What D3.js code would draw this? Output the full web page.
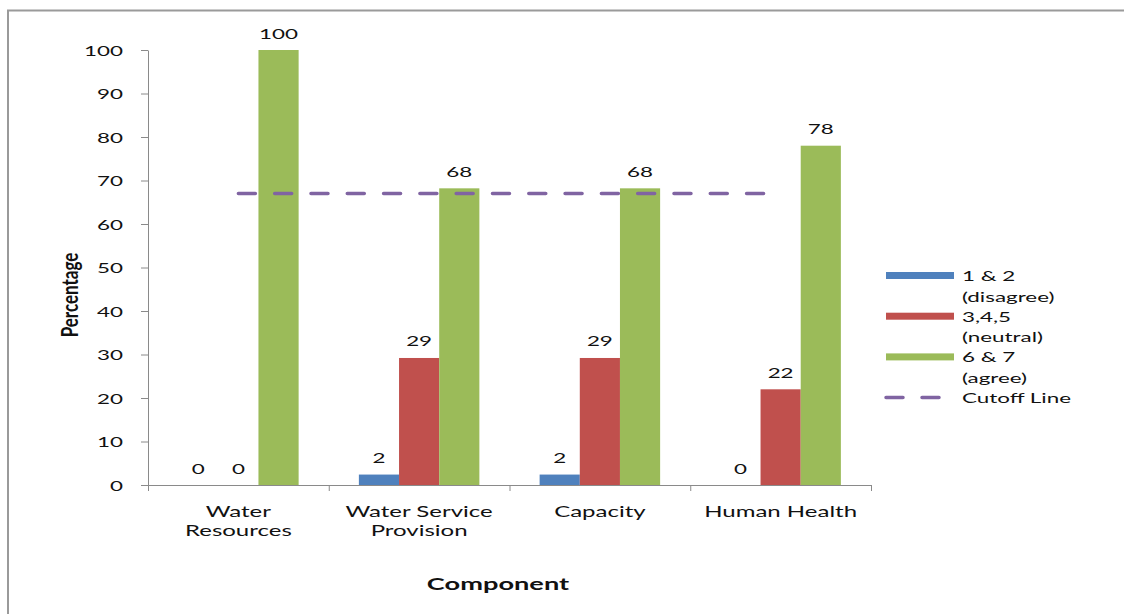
<!DOCTYPE html>
<html>
<head>
<meta charset="utf-8">
<script src="https://cdn.jsdelivr.net/npm/d3@7"></script>
<style>
  body { margin: 0; background: #fff; }
  text { font-family: Lato, "Open Sans", sans-serif; fill: #111; }
</style>
</head>
<body>
<svg id="chart"></svg>
<script>
const categories = ["Water\nResources", "Water Service\nProvision", "Capacity", "Human Health"];
const seriesNames = ["1 & 2\n(disagree)", "3,4,5\n(neutral)", "6 & 7\n(agree)"];
const disagree = [0, 2.4, 2.4, 0];
const neutral = [0, 29.2, 29.2, 22];
const agree = [100, 68.2, 68.2, 78];
const cutoff = [67, 67, 67, 67];
const cutoffName = "Cutoff Line";
const yTicks = [0, 10, 20, 30, 40, 50, 60, 70, 80, 90, 100];

const series = [disagree, neutral, agree];
const colours = ["#4F81BD", "#C0504D", "#9BBB59"];
const lineColour = "#8064A2";
const axisColour = "#8a8a8a";
const SX = 1.6; // the source picture is stretched sideways

const width = 1124;
const height = 614;
const margin = { top: 50, right: 253, bottom: 129, left: 148 };

const svg = d3.select("#chart").attr("width", width).attr("height", height);

// grey frame of the chart area (only top and left edges show)
svg.append("path")
  .attr("d", `M8,${height}V10.5H${width}`)
  .attr("fill", "none")
  .attr("stroke", "#9a9a9a")
  .attr("stroke-width", 2);

const x = d3.scaleBand()
  .domain(categories)
  .range([margin.left, width - margin.right]);

const xs = d3.scaleBand()
  .domain(d3.range(series.length))
  .range([0, x.bandwidth()])
  .paddingInner(0)
  .paddingOuter(0.75);

const y = d3.scaleLinear()
  .domain([0, 100])
  .range([height - margin.bottom, margin.top]);

const stretch = (sel, tx, ty) =>
  sel.attr("transform", `translate(${tx},${ty}) scale(${SX},1)`);

// y axis
const yAxis = svg.append("g")
  .attr("transform", `translate(${margin.left},0)`)
  .call(d3.axisLeft(y).tickValues(yTicks).tickSize(7).tickSizeOuter(0));
yAxis.select(".domain").attr("stroke", axisColour);
yAxis.selectAll(".tick line").attr("stroke", axisColour);
yAxis.selectAll(".tick text")
  .attr("x", -25 / SX)
  .attr("dy", "0.36em")
  .attr("transform", `scale(${SX},1)`)
  .style("font-size", "14px")
  .style("font-family", "Lato, sans-serif");

// x axis: boundary ticks
const xb = d3.scaleLinear().domain([0, categories.length]).range(x.range());
const xAxis = svg.append("g")
  .attr("transform", `translate(0,${y(0)})`)
  .call(d3.axisBottom(xb).ticks(categories.length).tickSize(6).tickSizeOuter(0).tickFormat(""));
xAxis.select(".domain").attr("stroke", axisColour);
xAxis.selectAll(".tick line").attr("stroke", axisColour);

// x axis: category labels
const xLabels = svg.append("g")
  .attr("transform", `translate(0,${y(0)})`)
  .call(d3.axisBottom(x).tickSize(0));
xLabels.select(".domain").remove();
xLabels.selectAll(".tick text").each(function(d) {
  const t = d3.select(this)
    .text(null)
    .attr("y", 0)
    .attr("dy", null)
    .attr("transform", `scale(${SX},1)`)
    .style("font-size", "15px")
    .style("font-family", "Lato, sans-serif");
  d.split("\n").forEach((line, i) => {
    t.append("tspan").attr("x", 0).attr("y", 32 + i * 19.5).text(line);
  });
});

// bars
series.forEach((values, si) => {
  const g = svg.append("g");
  g.selectAll("rect")
    .data(values)
    .enter()
    .append("rect")
    .attr("x", (d, i) => x(categories[i]) + xs(si))
    .attr("width", xs.bandwidth())
    .attr("y", d => y(d))
    .attr("height", d => y(0) - y(d))
    .attr("fill", colours[si]);

  g.selectAll("text")
    .data(values)
    .enter()
    .append("text")
    .attr("text-anchor", "middle")
    .style("font-size", "14px")
    .each(function(d, i) {
      stretch(d3.select(this), x(categories[i]) + xs(si) + xs.bandwidth() / 2, y(d) - 11.5);
    })
    .text(d => d3.format(".0f")(d));
});

// cutoff line
const line = d3.line()
  .x((d, i) => x(categories[i]) + x.bandwidth() / 2)
  .y(d => y(d));

svg.append("path")
  .datum(cutoff)
  .attr("d", line)
  .attr("fill", "none")
  .attr("stroke", lineColour)
  .attr("stroke-width", 3.5)
  .attr("stroke-linecap", "round")
  .attr("stroke-dasharray", "17,19.3");

// legend
const legendY = i => 275.5 + i * 40.7;
const legend = svg.append("g");

seriesNames.forEach((name, i) => {
  legend.append("rect")
    .attr("x", 886)
    .attr("y", legendY(i) - 3.5)
    .attr("width", 68)
    .attr("height", 7)
    .attr("fill", colours[i]);
  name.split("\n").forEach((part, j) => {
    stretch(legend.append("text"), 962, legendY(i) + 5.5 + j * 20.5)
      .style("font-size", "14px")
      .text(part);
  });
});

legend.append("line")
  .attr("x1", 886)
  .attr("x2", 939)
  .attr("y1", legendY(3))
  .attr("y2", legendY(3))
  .attr("stroke", lineColour)
  .attr("stroke-width", 3.5)
  .attr("stroke-linecap", "round")
  .attr("stroke-dasharray", "17,19");

stretch(legend.append("text"), 962, legendY(3) + 5.5)
  .style("font-size", "14px")
  .text(cutoffName);

// axis titles
stretch(svg.append("text"), 498, 590)
  .attr("text-anchor", "middle")
  .style("font-size", "17px")
  .style("font-weight", "bold")
  .text("Component");

svg.append("text")
  .attr("transform", "translate(78,295) rotate(-90) scale(1,1.35)")
  .attr("text-anchor", "middle")
  .style("font-size", "17px")
  .style("font-weight", "bold")
  .text("Percentage");
</script>
</body>
</html>
